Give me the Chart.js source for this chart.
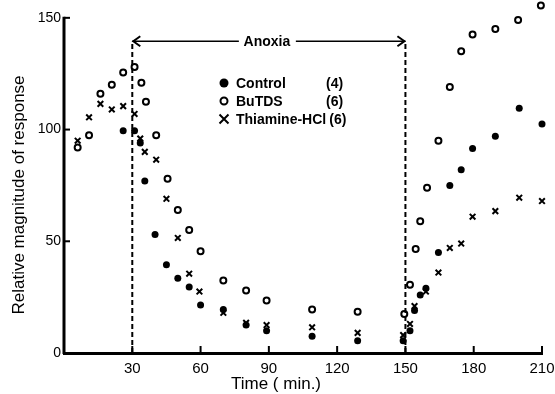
<!DOCTYPE html>
<html>
<head>
<meta charset="utf-8">
<script src="https://cdn.jsdelivr.net/npm/chart.js@4.4.0/dist/chart.umd.min.js"></script>
<style>
  html, body { margin: 0; padding: 0; background: #fff; }
  #wrap { width: 555px; height: 394px; }
</style>
</head>
<body>
<div id="wrap"><canvas id="chart" width="555" height="394"></canvas></div>
<script>
// time (min) and relative response
const controlTime = [26, 31, 33.5, 35.5, 40, 45, 50, 55, 60, 70, 80, 89, 109, 129, 149, 152, 154, 156.5, 159, 164.5, 169.5, 174.5, 179.5, 189.5, 200, 210];
const controlValue = [99.5, 99.5, 94, 77, 53, 39.5, 33.5, 29.5, 21.5, 19.5, 12.5, 10, 7.5, 5.5, 5.5, 10, 19, 26, 29, 45, 75, 82, 91.5, 97, 109.5, 102.5];

const butdsTime = [6, 11, 16, 21, 26, 31, 34, 36, 40.5, 45.5, 50, 55, 60, 70, 80, 89, 109, 129, 149.5, 152, 154.5, 156.5, 159.5, 164.5, 169.5, 174.5, 179.5, 189.5, 199.5, 209.5];
const butdsValue = [92, 97.5, 116, 120, 125.5, 128, 121, 112.5, 97.5, 78, 64, 55, 45.5, 32.5, 28, 23.5, 19.5, 18.5, 17.5, 30.5, 46.5, 59, 74, 95, 119, 135, 142.5, 145, 149, 155.5];

const thiamineTime = [6, 11, 16, 21, 26, 31, 33.5, 35.5, 40.5, 45, 50, 55, 59.5, 70, 80, 89, 109, 129, 149, 152, 154, 159, 164.5, 169.5, 174.5, 179.5, 189.5, 200, 210];
const thiamineValue = [95, 105.5, 111.5, 109, 110.5, 107, 96, 90, 86.5, 69, 51.5, 35.5, 27.5, 18, 13.5, 12.5, 11.5, 9, 8, 13, 21, 27.5, 36, 47, 49, 61, 63.5, 69.5, 68];

const xTicks = [30, 60, 90, 120, 150, 180, 210];
const yTicks = [0, 50, 100, 150];
const yAxisTop = 150;
const anoxiaStart = 30;
const anoxiaEnd = 150;
const anoxiaLevel = 139.5;

const legendRows = [
  { label: 'Control', n: '(4)', style: 'filled' },
  { label: 'BuTDS', n: '(6)', style: 'open' },
  { label: 'Thiamine-HCl', n: '(6)', style: 'cross' },
];

const toXY = (xs, ys) => xs.map((x, i) => ({ x: x, y: ys[i] }));
const FONT = '"Liberation Sans", Arial, sans-serif';

function drawSymbol(ctx, style, x, y, r) {
  ctx.save();
  ctx.strokeStyle = '#000';
  ctx.fillStyle = '#000';
  ctx.lineWidth = 2;
  if (style === 'filled') {
    ctx.beginPath(); ctx.arc(x, y, r, 0, Math.PI * 2); ctx.fill();
  } else if (style === 'open') {
    ctx.beginPath(); ctx.arc(x, y, r - 1, 0, Math.PI * 2); ctx.stroke();
  } else {
    ctx.beginPath();
    ctx.moveTo(x - r, y - r); ctx.lineTo(x + r, y + r);
    ctx.moveTo(x - r, y + r); ctx.lineTo(x + r, y - r);
    ctx.stroke();
  }
  ctx.restore();
}

const noPad = s => { s.paddingTop = 0; s.paddingBottom = 0; s.paddingLeft = 0; s.paddingRight = 0; };

const extras = {
  id: 'extras',
  afterDatasetsDraw(chart) {
    const ctx = chart.ctx;
    const xs = chart.scales.x, ys = chart.scales.y;
    const area = chart.chartArea;
    ctx.save();
    ctx.strokeStyle = '#000';

    // y axis line, only up to 150
    ctx.lineWidth = 3;
    ctx.beginPath();
    ctx.moveTo(area.left, area.bottom + 1);
    ctx.lineTo(area.left, ys.getPixelForValue(yAxisTop) - 1);
    ctx.stroke();

    // inward tick marks
    ctx.lineWidth = 2;
    xTicks.forEach(t => {
      const px = xs.getPixelForValue(t);
      ctx.beginPath(); ctx.moveTo(px, area.bottom); ctx.lineTo(px, area.bottom - 7); ctx.stroke();
    });
    yTicks.forEach(t => {
      const py = ys.getPixelForValue(t);
      ctx.beginPath(); ctx.moveTo(area.left, py); ctx.lineTo(area.left + 6, py); ctx.stroke();
    });

    // anoxia period
    const x1 = xs.getPixelForValue(anoxiaStart);
    const x2 = xs.getPixelForValue(anoxiaEnd);
    const yTop = ys.getPixelForValue(anoxiaLevel);
    const yBot = ys.getPixelForValue(0);
    ctx.setLineDash([5, 3]);
    ctx.lineWidth = 2;
    [x1, x2].forEach(px => {
      ctx.beginPath(); ctx.moveTo(px, yBot); ctx.lineTo(px, yTop); ctx.stroke();
    });
    ctx.setLineDash([]);
    ctx.lineWidth = 1.5;
    const mid = (x1 + x2) / 2;
    ctx.beginPath();
    ctx.moveTo(x1, yTop); ctx.lineTo(mid - 30, yTop);
    ctx.moveTo(mid + 27, yTop); ctx.lineTo(x2, yTop);
    ctx.stroke();
    ctx.lineWidth = 2;
    ctx.beginPath();
    ctx.moveTo(x1 + 8, yTop - 5); ctx.lineTo(x1 + 1, yTop); ctx.lineTo(x1 + 8, yTop + 5);
    ctx.moveTo(x2 - 8, yTop - 5); ctx.lineTo(x2 - 1, yTop); ctx.lineTo(x2 - 8, yTop + 5);
    ctx.stroke();
    ctx.fillStyle = '#000';
    ctx.font = 'bold 14px ' + FONT;
    ctx.textAlign = 'center';
    ctx.textBaseline = 'middle';
    ctx.fillText('Anoxia', mid - 2, yTop + 1);

    // legend
    ctx.textAlign = 'left';
    ctx.font = 'bold 14px ' + FONT;
    legendRows.forEach((row, i) => {
      const ry = 83 + i * 18;
      drawSymbol(ctx, row.style, 224, ry, 4.5);
      ctx.fillText(row.label, 236, ry + 1);
      const w = ctx.measureText(row.label).width;
      ctx.fillText(row.n, Math.max(326, 236 + w + 3), ry + 1);
    });

    // axis titles
    ctx.font = '17px ' + FONT;
    ctx.textAlign = 'center';
    ctx.fillText('Time ( min.)', 276, 384);
    ctx.translate(19, 195);
    ctx.rotate(-Math.PI / 2);
    ctx.fillText('Relative magnitude of response', 0, 0);
    ctx.restore();
  }
};

new Chart(document.getElementById('chart').getContext('2d'), {
  type: 'scatter',
  data: {
    datasets: [
      {
        label: 'Control',
        data: toXY(controlTime, controlValue),
        pointStyle: 'circle',
        pointRadius: 3.5,
        backgroundColor: '#000',
        borderColor: '#000',
        borderWidth: 0,
        clip: false,
      },
      {
        label: 'BuTDS',
        data: toXY(butdsTime, butdsValue),
        pointStyle: 'circle',
        pointRadius: 3,
        backgroundColor: '#fff',
        borderColor: '#000',
        borderWidth: 2,
        clip: false,
      },
      {
        label: 'Thiamine-HCl',
        data: toXY(thiamineTime, thiamineValue),
        pointStyle: 'crossRot',
        pointRadius: 4,
        borderColor: '#000',
        borderWidth: 2,
        clip: false,
      },
    ],
  },
  options: {
    responsive: false,
    animation: false,
    layout: { padding: { top: 0, right: 13, left: 0, bottom: 0 } },
    plugins: {
      legend: { display: false },
      tooltip: { enabled: false },
    },
    scales: {
      x: {
        type: 'linear',
        min: 0,
        max: 210,
        afterFit: s => { s.height = 41; noPad(s); },
        afterBuildTicks: s => { s.ticks = xTicks.map(v => ({ value: v })); },
        grid: { display: false, drawTicks: false, tickLength: 0 },
        border: { color: '#000', width: 3 },
        ticks: {
          color: '#000',
          font: { family: FONT, size: 15 },
          padding: 7,
          maxRotation: 0,
          autoSkip: false,
        },
      },
      y: {
        type: 'linear',
        min: 0,
        max: 155.3,
        afterFit: s => { s.width = 64; noPad(s); },
        afterBuildTicks: s => { s.ticks = yTicks.map(v => ({ value: v })); },
        grid: { display: false, drawTicks: false, tickLength: 0 },
        border: { display: false },
        ticks: {
          color: '#000',
          font: { family: FONT, size: 14 },
          padding: 3,
          autoSkip: false,
        },
      },
    },
  },
  plugins: [extras],
});
</script>
</body>
</html>
